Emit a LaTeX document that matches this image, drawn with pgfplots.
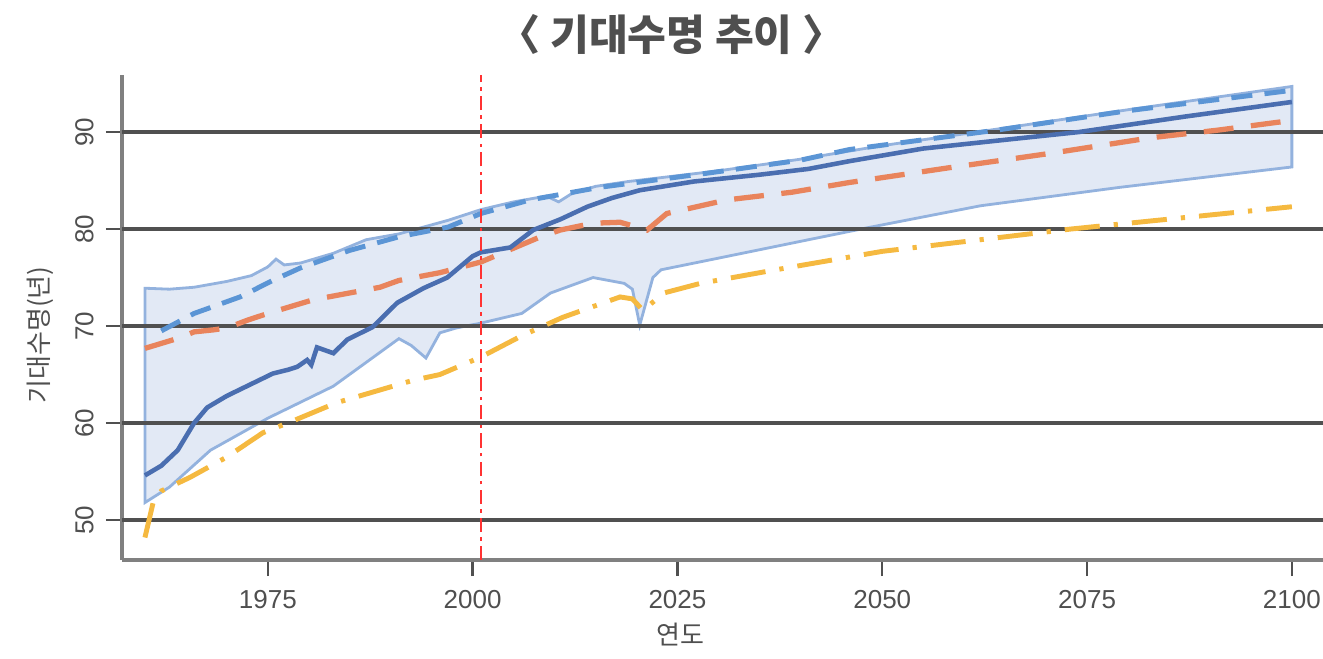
\documentclass[border=0pt]{standalone}
\usepackage{fontspec}
\setmainfont{Liberation Sans}
\newfontfamily\krfont{Noto Sans CJK KR}
\usepackage{pgfplots}
\pgfplotsset{compat=1.18}
\definecolor{cMain}{HTML}{4A6EB0}
\definecolor{cDashB}{HTML}{5B95D5}
\definecolor{cOrange}{HTML}{E9845C}
\definecolor{cYellow}{HTML}{F5B940}
\definecolor{cBandFill}{HTML}{E2E9F5}
\definecolor{cBandLine}{HTML}{93B2DE}
\definecolor{cGrid}{HTML}{505050}
\definecolor{cAxis}{HTML}{808080}
\definecolor{cText}{HTML}{4F4F4F}
\begin{document}
\begin{tikzpicture}
\useasboundingbox (-12.2mm,-9.8mm) rectangle (120.1mm,56mm);
\begin{axis}[
  at={(0,0)}, anchor=south west,
  scale only axis, width=120.1mm, height=48.5mm,
  xmin=1957.2, xmax=2103.8, ymin=45.88, ymax=95.88,
  axis x line*=bottom, axis y line*=left,
  axis line style={cAxis, line width=1.4pt},
  xtick={1975,2000,2025,2050,2075,2100},
  ytick={50,60,70,80,90},
  tick align=outside, major tick length=1.6mm,
  tick style={cGrid, line width=0.7pt},
  /pgf/number format/assume math mode=true,
  /pgf/number format/1000 sep={},
  ticklabel style={font=\fontsize{7.4}{8}\selectfont, text=cText},
  yticklabel style={rotate=90, anchor=south},
  xticklabel style={yshift=-0.2mm},
  clip=false,
]
% band (upper edge left->right, lower edge right->left)
\addplot[fill=cBandFill, draw=cBandLine, line width=0.8pt] coordinates {
(1960,73.9) (1963,73.8) (1966,74.0) (1970,74.6) (1973,75.2) (1975,76.1) (1976,76.9) (1977,76.3) (1979,76.5)
(1983,77.5) (1987,78.9) (1991,79.5) (1997,80.9) (2001,82.0) (2005,82.8) (2009,83.4) (2010.5,82.8) (2012,83.6)
(2015,84.4) (2019,84.9) (2025,85.5) (2030,86.0) (2040,87.2) (2050,88.6) (2064,90.3) (2080,92.3) (2100,94.7)
(2100,86.4) (2079,84.3) (2062,82.4) (2048,80.1) (2041,78.9) (2030,77.0) (2023,75.8) (2022,75.0) (2020.4,70.1)
(2019.5,73.8) (2018.5,74.4) (2014.7,75.0) (2009.5,73.4) (2006,71.3) (2001,70.3) (1998,69.8) (1996,69.3)
(1994.3,66.7) (1992.5,68.0) (1991,68.7) (1983,63.8) (1975,60.5) (1968,57.2) (1963,53.4) (1960,51.8)
} -- cycle;
% horizontal grid lines drawn over the band
\addplot[cGrid, line width=1.1pt, forget plot] coordinates {(1957.2,50) (2103.8,50)};
\addplot[cGrid, line width=1.1pt, forget plot] coordinates {(1957.2,60) (2103.8,60)};
\addplot[cGrid, line width=1.1pt, forget plot] coordinates {(1957.2,70) (2103.8,70)};
\addplot[cGrid, line width=1.1pt, forget plot] coordinates {(1957.2,80) (2103.8,80)};
\addplot[cGrid, line width=1.1pt, forget plot] coordinates {(1957.2,90) (2103.8,90)};
% yellow dash-dot
\addplot[cYellow, line width=1.4pt, dash pattern=on 10pt off 4pt on 1.2pt off 4pt] coordinates {
(1960,48.2) (1961,51.8) (1962,53.0) (1965.5,54.4) (1970,56.5) (1974.4,59.0) (1978,60.2) (1983.4,62.1)
(1992.7,64.4) (1996,65.0) (2001,66.8) (2006,69.0) (2011,70.9) (2018,73.0) (2019.5,72.8) (2020.8,71.6)
(2023.3,73.4) (2027.8,74.4) (2037,75.8) (2050,77.7) (2073,80.0) (2100,82.3)
};
% orange dashed
\addplot[cOrange, line width=1.5pt, dash pattern=on 8.5pt off 5pt] coordinates {
(1960,67.7) (1964.3,68.8) (1966,69.4) (1968.3,69.6) (1970,69.8) (1972.5,70.6) (1975,71.3) (1980.5,72.7)
(1988.7,74.0) (1991,74.7) (1996,75.5) (2001,76.6) (2008,79.1) (2010.7,79.9) (2014.7,80.6) (2018,80.7)
(2021.3,79.9) (2023.7,81.6) (2031,83.0) (2039,83.8) (2046,84.8) (2058,86.3) (2070.5,87.8) (2082.7,89.4)
(2091,90.2) (2100,91.2)
};
% blue dashed
\addplot[cDashB, line width=1.4pt, dash pattern=on 6pt off 3.5pt] coordinates {
(1962,69.5) (1966,71.3) (1971.6,73.0) (1975.6,74.7) (1979,76.0) (1985,77.8) (1991,79.2) (1997,80.2)
(2001,81.6) (2007,83.0) (2015.5,84.3) (2020,84.8) (2029,85.8) (2040,87.1) (2046,88.2) (2064,90.2)
(2080,92.2) (2100,94.3)
};
% main solid
\addplot[cMain, line width=1.3pt] coordinates {
(1960,54.6) (1962,55.6) (1964,57.2) (1966,60.0) (1967.6,61.6) (1970,62.8) (1975.6,65.1) (1977.5,65.5)
(1978.6,65.8) (1979.8,66.5) (1980.3,66.0) (1981,67.8) (1983,67.2) (1984.7,68.6) (1987.8,69.9) (1990.8,72.4)
(1994,73.9) (1996.9,75.0) (2000,77.2) (2001,77.6) (2004.6,78.1) (2007.4,79.9) (2010.7,81.0) (2014,82.3)
(2017,83.2) (2020.4,84.0) (2027,84.9) (2035,85.6) (2041,86.2) (2046,87.0) (2055,88.3) (2065,89.2)
(2074,90.0) (2087,91.6) (2100,93.1)
};
% red vertical
\addplot[red!80!white, line width=0.7pt, dash pattern=on 4pt off 1.5pt on 1pt off 1.5pt] coordinates {(2001,45.88) (2001,95.88)};
\end{axis}
\node[font=\krfont\bfseries\fontsize{12}{14}\selectfont, text=cText] at (54.95mm,52.5mm) {〈 기대수명 추이 〉};
\node[font=\krfont\fontsize{7.4}{8}\selectfont, text=cText, rotate=90] at (-8.2mm,22.5mm) {기대수명(년)};
\node[font=\krfont\fontsize{7.4}{8}\selectfont, text=cText] at (55.8mm,-7.5mm) {연도};
\end{tikzpicture}
\end{document}
